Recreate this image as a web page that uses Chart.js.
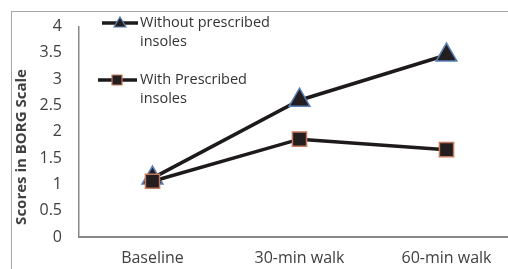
<!DOCTYPE html>
<html>
<head>
<meta charset="utf-8">
<script src="https://cdn.jsdelivr.net/npm/chart.js@4"></script>
<style>
  html, body { margin: 0; padding: 0; background: #fff; overflow: hidden; width: 508px; height: 269px; }
  #frame { position: absolute; left: 11px; top: 11px; width: 620px; height: 400px; border: 1px solid #a6a6a6; box-sizing: border-box; }
  #wrap { position: absolute; left: 0; top: 0; width: 560px; height: 300px; }
</style>
</head>
<body>
<div id="frame"></div>
<div id="wrap"><canvas id="chart1"></canvas></div>
<script>
const categories = ['Baseline', '30-min walk', '60-min walk'];
const withoutInsoles = [1.12, 2.6, 3.46];
const withInsoles = [1.06, 1.86, 1.66];
const seriesNames = [['Without prescribed', 'insoles'], ['With Prescribed', 'insoles']];
const yAxisTitle = 'Scores in BORG Scale';
const yMin = 0, yMax = 4, yStep = 0.5;

const textColor = '#404040';
const axisColor = '#888888';
const fontFamily = '"Open Sans", sans-serif';

// legend drawn inside the plot, top left, like the original
const insideLegend = {
  id: 'insideLegend',
  afterDraw(chart) {
    const ctx = chart.ctx;
    const rows = [{ y: 23, x0: 102, x1: 138, mx: 120 }, { y: 80, x0: 98, x1: 137, mx: 117 }];
    ctx.save();
    chart.data.datasets.forEach((ds, i) => {
      const r = rows[ds.legendRow];
      ctx.strokeStyle = ds.borderColor;
      ctx.lineWidth = 3.5;
      ctx.beginPath();
      ctx.moveTo(r.x0, r.y);
      ctx.lineTo(r.x1, r.y);
      ctx.stroke();
      ctx.fillStyle = ds.pointBackgroundColor;
      ctx.strokeStyle = ds.pointBorderColor;
      ctx.lineWidth = 1.2;
      ctx.beginPath();
      if (ds.pointStyle === 'triangle') {
        ctx.moveTo(r.mx, r.y - 6);
        ctx.lineTo(r.mx + 6, r.y + 4);
        ctx.lineTo(r.mx - 6, r.y + 4);
        ctx.closePath();
      } else {
        ctx.rect(r.mx - 5, r.y - 5, 10, 10);
      }
      ctx.fill();
      ctx.stroke();
      ctx.fillStyle = '#333';
      ctx.font = '14.5px ' + fontFamily;
      ctx.textBaseline = 'middle';
      ctx.textAlign = 'left';
      seriesNames[ds.legendRow].forEach((line, k) => {
        ctx.fillText(line, 140, r.y + k * 19);
      });
    });
    // y axis title
    ctx.translate(22, 147);
    ctx.rotate(-Math.PI / 2);
    ctx.font = 'bold 15px ' + fontFamily;
    ctx.fillStyle = textColor;
    ctx.textAlign = 'center';
    ctx.textBaseline = 'middle';
    ctx.fillText(yAxisTitle, 0, 0);
    ctx.restore();
  }
};

const chart = new Chart(document.getElementById('chart1'), {
  type: 'line',
  data: {
    labels: categories,
    datasets: [{
      label: seriesNames[0].join(' '),
      legendRow: 0,
      data: withoutInsoles,
      order: 1,
      borderColor: '#1e1a1b',
      borderWidth: 3.5,
      pointStyle: 'triangle',
      pointRadius: 12,
      pointBackgroundColor: '#231f20',
      pointBorderColor: '#5a7fb5',
      pointBorderWidth: 1.5
    }, {
      label: seriesNames[1].join(' '),
      legendRow: 1,
      data: withInsoles,
      order: 0,
      borderColor: '#1e1a1b',
      borderWidth: 3.5,
      pointStyle: 'rect',
      pointRadius: 10,
      pointBackgroundColor: '#231f20',
      pointBorderColor: '#c57a5e',
      pointBorderWidth: 1.5
    }]
  },
  options: {
    responsive: true,
    maintainAspectRatio: false,
    animation: false,
    layout: { padding: { left: 0, top: 22, right: 40, bottom: 23 } },
    plugins: {
      legend: { display: false },
      tooltip: { enabled: false }
    },
    scales: {
      x: {
        offset: true,
        grid: { display: false, drawTicks: false },
        border: { color: axisColor, width: 2 },
        ticks: { color: textColor, font: { family: fontFamily, size: 16 }, padding: 12 },
        afterFit: (s) => { s.height = 40; }
      },
      y: {
        min: yMin,
        max: yMax,
        grid: { display: false, drawTicks: false },
        border: { color: axisColor, width: 1.5 },
        ticks: {
          stepSize: yStep,
          color: textColor,
          font: { family: fontFamily, size: 16 },
          padding: 17,
          callback: (v) => String(v)
        },
        afterFit: (s) => { s.width = 79; }
      }
    }
  },
  plugins: [insideLegend]
});
</script>
</body>
</html>
